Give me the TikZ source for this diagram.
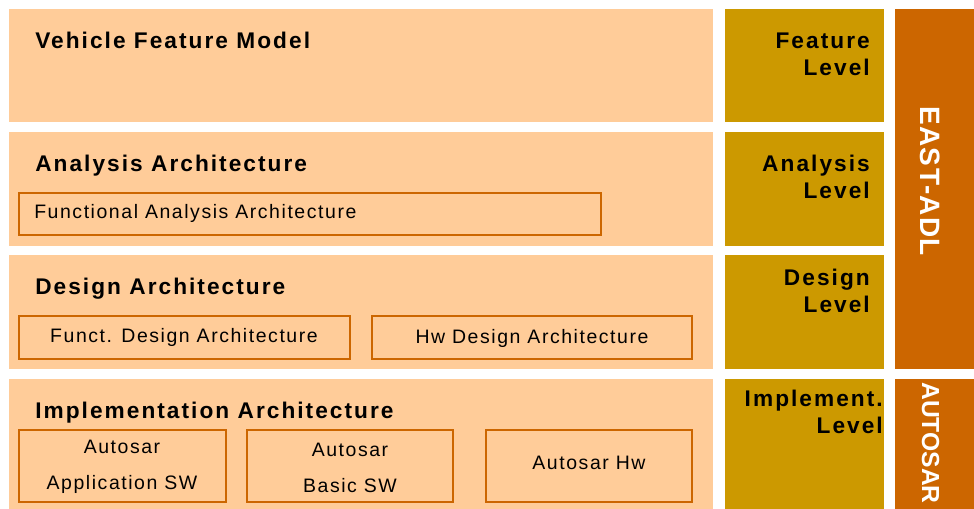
\documentclass[tikz,border=0pt]{standalone}
\usepackage{fontspec}
\setmainfont{Liberation Sans}
\definecolor{peach}{HTML}{FFCC99}
\definecolor{gold}{HTML}{CC9900}
\definecolor{rust}{HTML}{CC6600}
\begin{document}
\begin{tikzpicture}[x=0.75pt,y=-0.75pt,
    title/.style={anchor=base west,inner sep=0pt,
      font=\fontsize{17}{20}\selectfont\bfseries\addfontfeature{LetterSpace=9}},
    level/.style={anchor=base east,inner sep=0pt,align=right,
      font=\fontsize{17}{20}\selectfont\bfseries\addfontfeature{LetterSpace=9}},
    part/.style={draw=rust,line width=2pt},
    partlabel/.style={inner sep=0pt,align=center,
      font=\fontsize{14.6}{27}\selectfont\addfontfeature{LetterSpace=8}},
    side/.style={anchor=base west,inner sep=0pt,rotate=-90,text=white,
      font=\fontsize{21}{24}\selectfont\bfseries\addfontfeature{LetterSpace=5}}]
  \clip (0,0) rectangle (974,508);
  % layers
  \fill[peach] (9,9) rectangle (713,122);
  \fill[peach] (9,132) rectangle (713,246);
  \fill[peach] (9,255) rectangle (713,369);
  \fill[peach] (9,379) rectangle (713,520);
  \fill[gold] (725,9) rectangle (884,122);
  \fill[gold] (725,132) rectangle (884,246);
  \fill[gold] (725,255) rectangle (884,369);
  \fill[gold] (725,379) rectangle (884,520);
  \fill[rust] (895,9) rectangle (990,369);
  \fill[rust] (895,379) rectangle (990,520);
  % parts
  \draw[part] (19,193) rectangle (601,235);
  \draw[part] (19,316) rectangle (350,359);
  \draw[part] (372,316) rectangle (692,359);
  \draw[part] (19,430) rectangle (226,502);
  \draw[part] (247,430) rectangle (453,502);
  \draw[part] (486,430) rectangle (692,502);
  \draw
    (35,48) node[title] (vfm) {Vehicle Feature Model}
    (35,171) node[title] (aa) {Analysis Architecture}
    (35,294) node[title] (da) {Design Architecture}
    (35,418) node[title] (ia) {Implementation Architecture};
  % base of a two-line node is its last line
  \draw
    (870,75) node[level] (fl) {Feature\\Level}
    (870,198) node[level] (al) {Analysis\\Level}
    (870,312) node[level] (dl) {Design\\Level}
    (883,433) node[level] (il) {Implement.\\Level};
  \draw
    (34,218) node[partlabel,anchor=base west] (faa) {Functional Analysis Architecture}
    (184,342) node[partlabel,anchor=base] (fda) {Funct. Design Architecture}
    (532,343) node[partlabel,anchor=base] (hda) {Hw Design Architecture}
    (122,489) node[partlabel,anchor=base] (asw) {Autosar\\Application SW}
    (350,492) node[partlabel,anchor=base] (bsw) {Autosar\\Basic SW}
    (589,469) node[partlabel,anchor=base] (ahw) {Autosar Hw};
  \draw
    (920,106) node[side] (east) {EAST-ADL}
    (922,382) node[side,font=\fontsize{18.5}{22}\selectfont\bfseries] (autosar) {AUTOSAR};
\end{tikzpicture}
\end{document}
